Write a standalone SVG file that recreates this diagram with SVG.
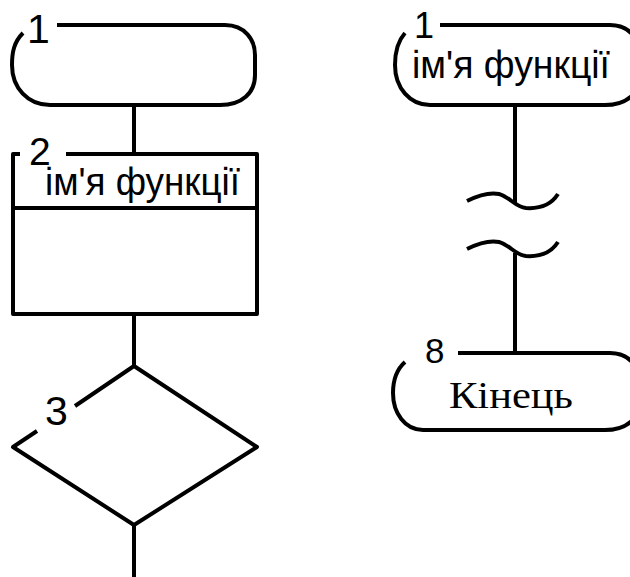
<svg xmlns="http://www.w3.org/2000/svg" width="630" height="577" viewBox="0 0 630 577">
<style>
.s{fill:none;stroke:#000;stroke-width:4;stroke-linejoin:round}
.n{font-family:"Liberation Sans",Arial,sans-serif;fill:#000}
.t{font-family:"Liberation Sans",Arial,sans-serif;fill:#000;font-size:38px}
.r{font-family:"Liberation Serif","Times New Roman",serif;fill:#000;font-size:38px}
</style>
<rect width="630" height="577" fill="#fff"/>
<g id="connectors" class="s">
<path d="M134 105V154"/>
<path d="M134 314V366"/>
<path d="M134 525V577"/>
<path d="M515 105V204"/>
<path d="M515 253V353"/>
<path d="M467 201C479 195 489 192 499 194C510 197 515 207 526 208C541 209 551 205 558 194"/>
<path d="M467 249C479 243 489 240 499 242C510 245 515 255 526 256C541 257 551 253 558 242"/>
</g>
<g id="n1">
<path class="s" d="M57 25H225C245 25 255 40 255 55V75C255 93 242 105 220 105H50C28 105 12 88 12 65C12 52 14 42 23 33"/>
<text class="n" x="27" y="43" font-size="41">1</text>
</g>
<g id="n2">
<path class="s" d="M66 154H257V314H13V154H20M13 208H257"/>
<text class="n" x="29" y="165" font-size="39">2</text>
<text class="t" x="45" y="195" textLength="195" lengthAdjust="spacingAndGlyphs">ім'я функції</text>
</g>
<g id="n3">
<path class="s" d="M75 406L134 366L257 447L134 525L13 447L37 431"/>
<text class="n" x="45" y="425" font-size="41">3</text>
</g>
<g id="n4">
<path class="s" d="M440 25H610C630 25 640 40 640 55V75C640 93 627 105 605 105H430C410 105 395 88 395 65C395 52 397 42 405 33"/>
<text class="n" x="414" y="38" font-size="36">1</text>
<text class="t" x="412" y="78" textLength="198" lengthAdjust="spacingAndGlyphs">ім'я функції</text>
</g>
<g id="n8">
<path class="s" d="M458 353H610C630 353 640 368 640 383V400C640 418 627 430 605 430H423C405 430 393 413 393 393C393 380 396 370 405 362"/>
<text class="n" x="425" y="363" font-size="35">8</text>
<text class="r" x="449" y="408" textLength="124" lengthAdjust="spacingAndGlyphs">Кінець</text>
</g>
</svg>
